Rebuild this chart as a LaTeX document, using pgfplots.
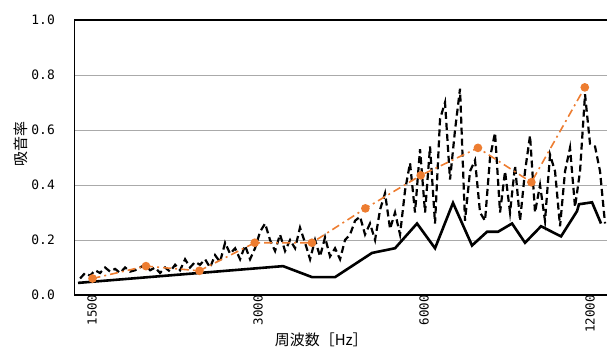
\documentclass[border=0pt]{standalone}
\usepackage{fontspec}
\setmainfont{Noto Sans CJK JP}
\newfontfamily\monofont{DejaVu Sans Mono}
\usepackage{pgfplots}
\pgfplotsset{compat=1.18}
\definecolor{xlorange}{RGB}{237,125,49}
\definecolor{gridgray}{RGB}{170,170,170}
\begin{document}
\begin{tikzpicture}
\useasboundingbox (-74bp,-52bp) rectangle (533bp,295bp);
\begin{axis}[
  at={(0,0)}, anchor=south west,
  width=533bp, height=275bp, scale only axis,
  xmode=log, xmin=1481, xmax=13716,
  ymin=0, ymax=1,
  xtick={1500,3000,6000,12000},
  xticklabels={1500,3000,6000,12000},
  ytick={0,0.2,0.4,0.6,0.8,1.0},
  yticklabels={0.0,0.2,0.4,0.6,0.8,1.0},
  /pgf/number format/assume math mode=true,
  ymajorgrids, grid style={draw=gridgray, line width=0.9bp},
  major tick length=0pt,
  axis line style={draw=none},
  xticklabel style={font=\monofont\fontsize{12.5}{14}\selectfont, rotate=90, anchor=east, inner sep=0pt, yshift=-15bp},
  yticklabel style={font=\monofont\fontsize{13}{15}\selectfont, anchor=east, inner sep=0pt, xshift=-19bp},
  xlabel={周波数［Hz］},
  xlabel style={at={(axis description cs:0.464,0)}, anchor=north, inner sep=0pt, yshift=-38bp, font=\fontsize{15}{17}\selectfont},
  ylabel={吸音率},
  ylabel style={at={(axis description cs:-0.0994,0.549)}, anchor=center, inner sep=0pt, font=\fontsize{15}{17}\selectfont},
]
% dashed series
\addplot[black, line width=2.2bp, dash pattern=on 7bp off 4bp] coordinates {
(1519,0.06) (1551,0.08) (1584,0.07) (1617,0.09) (1651,0.08) (1686,0.10)
(1722,0.085) (1758,0.095) (1795,0.08) (1833,0.10) (1872,0.085) (1911,0.09)
(1951,0.10) (1993,0.11) (2035,0.09) (2078,0.10) (2121,0.08) (2166,0.10)
(2212,0.085) (2259,0.11) (2306,0.09) (2355,0.13) (2404,0.10) (2455,0.12)
(2507,0.11) (2560,0.13) (2614,0.10) (2669,0.145) (2725,0.12) (2783,0.19)
(2842,0.15) (2902,0.17) (2963,0.13) (3025,0.18) (3089,0.13) (3154,0.17)
(3221,0.23) (3289,0.26) (3358,0.20) (3429,0.16) (3501,0.22) (3575,0.16)
(3651,0.20) (3728,0.17) (3806,0.245) (3887,0.19) (3969,0.13) (4052,0.20)
(4138,0.14) (4225,0.21) (4314,0.14) (4405,0.17) (4498,0.13) (4593,0.20)
(4690,0.22) (4789,0.27) (4890,0.285) (4993,0.22) (5098,0.26) (5206,0.20)
(5316,0.31) (5428,0.37) (5543,0.24) (5659,0.30) (5779,0.22) (5901,0.38)
(6025,0.48) (6152,0.30) (6282,0.53) (6415,0.30) (6550,0.54) (6688,0.26)
(6829,0.64) (6973,0.70) (7121,0.42) (7271,0.60) (7424,0.75) (7581,0.27)
(7741,0.45) (7904,0.49) (8071,0.30) (8241,0.27) (8415,0.50) (8592,0.59)
(8774,0.30) (8959,0.45) (9148,0.30) (9341,0.47) (9538,0.27) (9739,0.45)
(9945,0.58) (10154,0.30) (10369,0.40) (10587,0.27) (10811,0.51) (11039,0.45)
(11272,0.25) (11510,0.45) (11752,0.535) (12000,0.32) (12254,0.45) (12512,0.73)
(12776,0.55) (13046,0.54) (13321,0.45) (13602,0.26)
};
% solid series
\addplot[black, line width=2.6bp, line join=miter] coordinates {
(1506,0.044) (3545,0.105) (4002,0.065) (4405,0.065) (5141,0.153) (5659,0.17)
(6204,0.26) (6688,0.17) (7210,0.335) (7806,0.18) (8311,0.23) (8701,0.23)
(9225,0.26) (9739,0.19) (10412,0.25) (11319,0.213) (12101,0.305) (12200,0.33)
(12883,0.337) (13376,0.26)
};
% 1/3 octave band series
\addplot[xlorange, line width=1.6bp, dash pattern=on 8bp off 4bp on 2bp off 4bp,
  mark=*, mark size=3.5bp, mark options={solid, fill=xlorange, draw=xlorange}] coordinates {
(1600,0.06) (2000,0.105) (2500,0.088) (3150,0.19) (4000,0.19)
(5000,0.315) (6300,0.435) (8000,0.535) (10000,0.41) (12500,0.755)
};
\draw[black, line width=1.6bp] (rel axis cs:1.02,1) -- (rel axis cs:0,1) -- (rel axis cs:0,0) -- (rel axis cs:1.02,0);
\end{axis}
\end{tikzpicture}
\end{document}
